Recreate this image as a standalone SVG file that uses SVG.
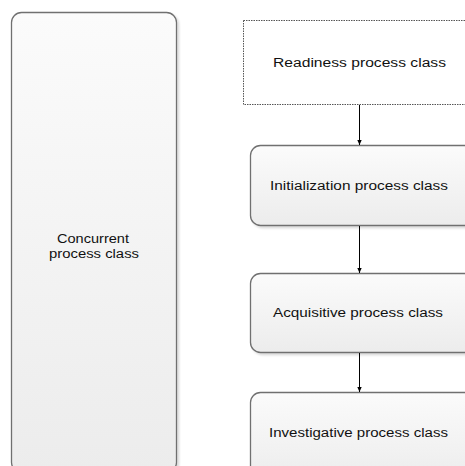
<svg xmlns="http://www.w3.org/2000/svg" width="465" height="466" viewBox="0 0 465 466">
<defs>
<linearGradient id="g" x1="0" y1="0" x2="0" y2="1">
<stop offset="0" stop-color="#fbfbfb"/>
<stop offset="1" stop-color="#ececec"/>
</linearGradient>
<marker id="ah" markerWidth="6" markerHeight="6" refX="5" refY="3" orient="auto" markerUnits="userSpaceOnUse">
<path d="M0,0.8 L5,3 L0,5.2 z" fill="#000"/>
</marker>
<filter id="sh" x="-5%" y="-5%" width="115%" height="115%">
<feDropShadow dx="2" dy="2" stdDeviation="1" flood-color="#000" flood-opacity="0.15"/>
</filter>
</defs>
<style>
.box{fill:url(#g);stroke:#707070;stroke-width:1.3;filter:url(#sh)}
.dot{fill:#fff;stroke:#555;stroke-width:1;stroke-dasharray:1.5,1}
.t{font-family:"Liberation Sans",Arial,sans-serif;font-size:12.5px;fill:#111;text-anchor:middle}
.c{stroke:#000;stroke-width:1;fill:none;marker-end:url(#ah)}
</style>
<rect width="465" height="466" fill="#fff"/>
<g id="concurrent">
<rect class="box" x="11.5" y="12.5" width="165" height="460" rx="10"/>
<text class="t" x="93" y="243" textLength="72" lengthAdjust="spacingAndGlyphs">Concurrent</text>
<text class="t" x="94" y="258" textLength="90" lengthAdjust="spacingAndGlyphs">process class</text>
</g>
<g id="readiness">
<rect class="dot" x="243.5" y="20.5" width="228" height="84"/>
<text class="t" x="359.5" y="67" textLength="173" lengthAdjust="spacingAndGlyphs">Readiness process class</text>
</g>
<g id="initialization">
<rect class="box" x="250.5" y="145.5" width="224" height="80" rx="10"/>
<text class="t" x="359" y="189.5" textLength="178" lengthAdjust="spacingAndGlyphs">Initialization process class</text>
</g>
<g id="acquisitive">
<rect class="box" x="250.5" y="273.5" width="224" height="79" rx="10"/>
<text class="t" x="358" y="317" textLength="170" lengthAdjust="spacingAndGlyphs">Acquisitive process class</text>
</g>
<g id="investigative">
<rect class="box" x="250.5" y="392.5" width="224" height="90" rx="10"/>
<text class="t" x="358.5" y="437" textLength="179" lengthAdjust="spacingAndGlyphs">Investigative process class</text>
</g>
<g id="connectors">
<line class="c" x1="359.5" y1="105" x2="359.5" y2="145"/>
<line class="c" x1="359.5" y1="226" x2="359.5" y2="273"/>
<line class="c" x1="359.5" y1="353" x2="359.5" y2="392"/>
</g>
</svg>
